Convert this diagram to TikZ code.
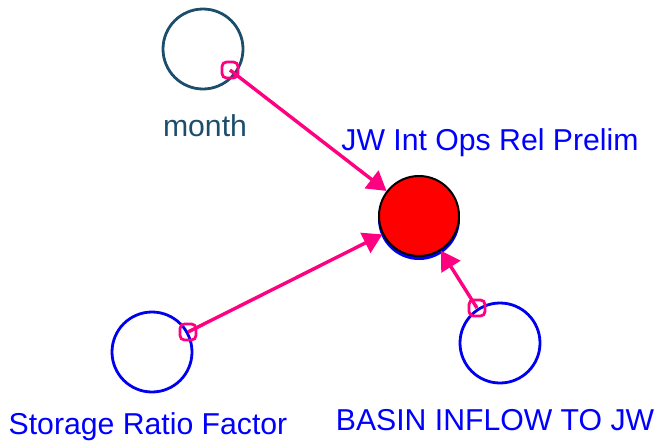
\documentclass[tikz,border=0pt]{standalone}
\usepackage{fontspec}
\setmainfont{Liberation Sans}
\usetikzlibrary{arrows.meta}
\definecolor{linkpink}{RGB}{255,0,128}
\definecolor{varblue}{RGB}{0,0,240}
\definecolor{labelblue}{RGB}{0,0,255}
\definecolor{navy}{RGB}{28,78,108}
\tikzset{
  var/.style={circle, draw=varblue, line width=2.8pt, minimum size=80pt, inner sep=0pt},
  lbl/.style={anchor=base, font=\fontsize{30.2}{34}\selectfont, text=labelblue, inner sep=0pt},
  link/.style={draw=linkpink, line width=3.4pt, -{Triangle[length=19pt,width=22pt]}},
  tail/.style={draw=linkpink, line width=2.8pt, rectangle, rounded corners=4.5pt, minimum size=16pt, inner sep=0pt}
}
\begin{document}
\begin{tikzpicture}[x=1pt,y=-1pt]
\useasboundingbox (0,0) rectangle (658,445);

% variables
\node[var, draw=navy] (month) at (203,49) {};
\node[var] (storage) at (152,352) {};
\node[var] (basin) at (500,343) {};
\node[circle, draw=varblue, fill=varblue, line width=2pt, minimum size=80pt, inner sep=0pt] (jwshadow) at (419,219) {};
\node[circle, draw=black, fill=red, line width=2pt, minimum size=80pt, inner sep=0pt] (jw) at (419,216) {};

% labels
\node[lbl, text=navy] (monthlbl) at (205,136) {month};
\node[lbl] (jwlbl) at (490,150) {JW Int Ops Rel Prelim};
\node[lbl] (storagelbl) at (148,434) {Storage Ratio Factor};
\node[lbl] (basinlbl) at (495,430) {BASIN INFLOW TO JW};

% link tails
\coordinate (mt) at (230,70);
\coordinate (st) at (188,332);
\coordinate (bt) at (477,308);

% links
\draw[link] (mt) -- (jw);
\draw[link] (st) -- (jw);
\draw[link] (bt) -- (jw);

\node[tail] (mtail) at (mt) {};
\node[tail] (stail) at (st) {};
\node[tail] (btail) at (bt) {};
\end{tikzpicture}
\end{document}
